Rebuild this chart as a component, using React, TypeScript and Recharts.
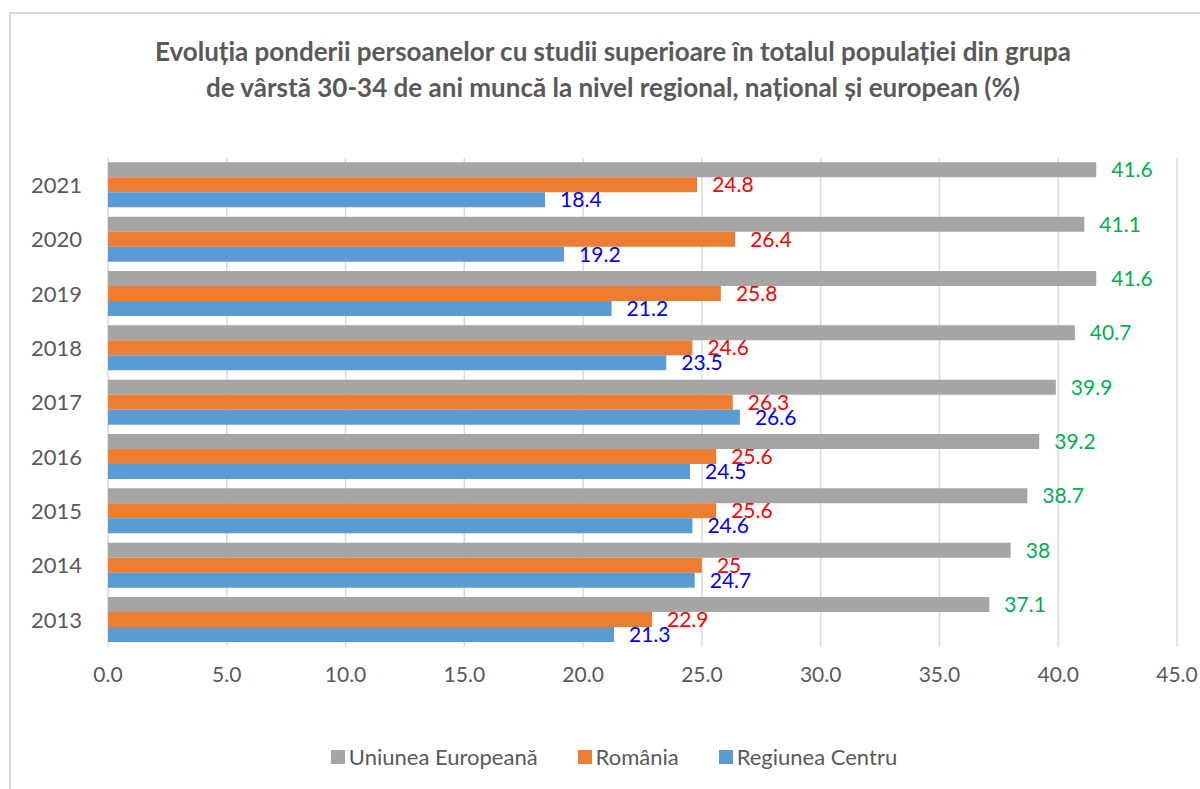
import React from 'react';
import { BarChart, Bar, XAxis, YAxis, CartesianGrid, Legend, LabelList } from 'recharts';

// years from top to bottom, as in the picture
const years = ['2021', '2020', '2019', '2018', '2017', '2016', '2015', '2014', '2013'];
const ueValues = [41.6, 41.1, 41.6, 40.7, 39.9, 39.2, 38.7, 38, 37.1];
const roValues = [24.8, 26.4, 25.8, 24.6, 26.3, 25.6, 25.6, 25, 22.9];
const centruValues = [18.4, 19.2, 21.2, 23.5, 26.6, 24.5, 24.6, 24.7, 21.3];
const xTicks = [0, 5, 10, 15, 20, 25, 30, 35, 40, 45];

const series = [
    { key: 'ue', name: 'Uniunea Europeană', color: '#A5A5A5', labelColor: '#00B050' },
    { key: 'ro', name: 'România', color: '#ED7D31', labelColor: '#FF0000' },
    { key: 'centru', name: 'Regiunea Centru', color: '#5B9BD5', labelColor: '#0000FF' },
];

const data = years.map((year, i) => ({
    year,
    ue: ueValues[i],
    ro: roValues[i],
    centru: centruValues[i],
}));

const FONT = 'Lato, "Open Sans", sans-serif';
const TEXT = '#595959';

const renderLegend = () => (
    <div style={{ display: 'flex', justifyContent: 'center', gap: 40, fontFamily: FONT, fontSize: 22, color: TEXT }}>
        {series.map(s => (
            <div key={s.key} style={{ display: 'flex', alignItems: 'center' }}>
                <span style={{ width: 14, height: 14, background: s.color, display: 'inline-block', marginRight: 4 }} />
                <span>{s.name}</span>
            </div>
        ))}
    </div>
);

export default function App() {
    return (
        <div style={{ position: 'absolute', left: 0, top: 0, width: 1200, height: 789, overflow: 'hidden', background: '#fff', fontFamily: FONT }}>
            <div style={{ position: 'absolute', left: 9, top: 12, width: 1240, height: 900, border: '2px solid #d9d9d9' }} />
            <div
                style={{
                    position: 'absolute',
                    left: 13,
                    width: 1200,
                    top: 33,
                    textAlign: 'center',
                    fontWeight: 700,
                    fontSize: 26,
                    lineHeight: '36px',
                    color: TEXT,
                }}
            >
                Evoluția ponderii persoanelor cu studii superioare în totalul populației din grupa
                <br />
                de vârstă 30-34 de ani muncă la nivel regional, național și european (%)
            </div>
            <div style={{ position: 'absolute', left: 0, top: 0 }}>
                <BarChart
                    width={1200}
                    height={789}
                    data={data}
                    layout="vertical"
                    margin={{ top: 158, right: 23, bottom: 102, left: 18 }}
                    barCategoryGap="8%"
                    barGap={0}
                >
                    <CartesianGrid horizontal={false} stroke="#d9d9d9" strokeWidth={1.5} />
                    <XAxis
                        type="number"
                        domain={[0, 45]}
                        ticks={xTicks}
                        tickFormatter={(v: number) => v.toFixed(1)}
                        axisLine={false}
                        tickLine={false}
                        tickMargin={14}
                        height={40}
                        tick={{ fill: TEXT, fontSize: 21, fontFamily: FONT }}
                    />
                    <YAxis
                        type="category"
                        dataKey="year"
                        width={90}
                        axisLine={false}
                        tickLine={false}
                        tickMargin={20}
                        tick={{ fill: TEXT, fontSize: 22, fontFamily: FONT }}
                    />
                    <Legend
                        verticalAlign="middle"
                        layout="horizontal"
                        align="center"
                        content={renderLegend}
                        wrapperStyle={{ top: 743, left: 0, width: 1228 }}
                    />
                    {series.map(s => (
                        <Bar key={s.key} dataKey={s.key} name={s.name} fill={s.color} isAnimationActive={false}>
                            <LabelList
                                dataKey={s.key}
                                position="right"
                                offset={15}
                                fill={s.labelColor}
                                fontSize={21}
                                fontFamily={FONT}
                            />
                        </Bar>
                    ))}
                </BarChart>
            </div>
        </div>
    );
}
